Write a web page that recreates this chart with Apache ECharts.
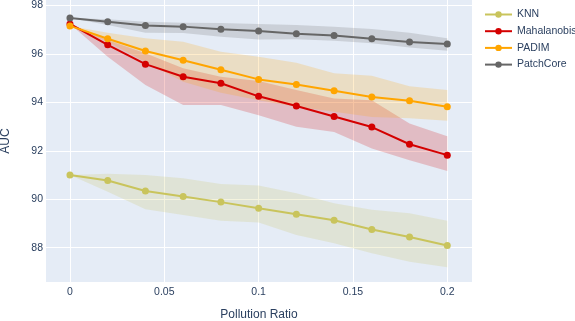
<!DOCTYPE html>
<html>
<head>
<meta charset="utf-8">
<script src="https://cdn.jsdelivr.net/npm/echarts@6/dist/echarts.min.js"></script>
<style>
  html, body { margin: 0; padding: 0; background: #fff; }
  #chart { width: 575px; height: 321px; }
</style>
</head>
<body>
<div id="chart"></div>
<script>
// pollution ratio on the x axis
var ratios = [0, 0.02, 0.04, 0.06, 0.08, 0.1, 0.12, 0.14, 0.16, 0.18, 0.2];
var xTicks = [0, 0.05, 0.1, 0.15, 0.2];
var yTicks = [88, 90, 92, 94, 96, 98];

// mean AUC per method
var knnMean   = [91.0, 90.77, 90.34, 90.11, 89.88, 89.63, 89.38, 89.13, 88.75, 88.44, 88.09];
var mahaMean  = [97.24, 96.38, 95.58, 95.06, 94.79, 94.25, 93.85, 93.42, 92.98, 92.27, 91.82];
var padimMean = [97.16, 96.63, 96.12, 95.74, 95.35, 94.95, 94.74, 94.48, 94.22, 94.07, 93.82];
var patchMean = [97.49, 97.33, 97.18, 97.13, 97.02, 96.95, 96.84, 96.76, 96.63, 96.49, 96.41];

// shaded band edges
var knnUpper   = [91.0, 91.05, 91.0, 90.87, 90.63, 90.57, 90.25, 89.83, 89.56, 89.42, 89.11];
var knnLower   = [91.0, 90.31, 89.59, 89.35, 89.11, 89.04, 88.52, 88.18, 87.77, 87.42, 87.19];
var mahaUpper  = [97.24, 96.58, 96.03, 95.41, 95.06, 94.88, 94.51, 94.16, 94.09, 93.13, 92.6];
var mahaLower  = [97.24, 95.89, 94.72, 93.89, 93.89, 93.47, 92.99, 92.78, 92.10, 91.61, 91.17];
var padimUpper = [97.16, 96.88, 96.65, 96.51, 96.09, 95.89, 95.64, 95.2, 95.1, 94.67, 94.51];
var padimLower = [97.16, 96.51, 95.67, 94.85, 94.40, 94.09, 93.82, 93.61, 93.40, 93.34, 93.24];
var patchUpper = [97.49, 97.43, 97.33, 97.29, 97.28, 97.24, 97.20, 97.13, 97.03, 96.88, 96.65];
var patchLower = [97.49, 97.20, 96.88, 96.87, 96.71, 96.6, 96.61, 96.55, 96.44, 96.27, 96.13];

var methods = [
	{name: 'KNN',         color: '#c9c45c', fill: 'rgba(201,196,92,0.2)',  mean: knnMean,   up: knnUpper,   lo: knnLower},
	{name: 'Mahalanobis', color: '#d40000', fill: 'rgba(212,0,0,0.2)',    mean: mahaMean,  up: mahaUpper,  lo: mahaLower},
	{name: 'PADIM',       color: '#ffa500', fill: 'rgba(255,165,0,0.2)',  mean: padimMean, up: padimUpper, lo: padimLower},
	{name: 'PatchCore',   color: '#666666', fill: 'rgba(102,102,102,0.2)', mean: patchMean, up: patchUpper, lo: patchLower}
];

function pairs(ys) {
	var out = [];
	for (var i = 0; i < ratios.length; i++) {
		out.push([ratios[i], ys[i]]);
	}
	return out;
}

// one polygon per method: upper edge left->right, lower edge back
function bandRenderer(fill) {
	return function (params, api) {
		if (params.dataIndexInside !== 0) return;
		var top = [], bottom = [];
		for (var i = 0; i < params.dataInsideLength; i++) {
			top.push(api.coord([api.value(0, i), api.value(2, i)]));
			bottom.unshift(api.coord([api.value(0, i), api.value(1, i)]));
		}
		return {
			type: 'polygon',
			shape: {points: top.concat(bottom)},
			style: {fill: fill}
		};
	};
}

var series = [];
for (var m = 0; m < methods.length; m++) {
	var md = methods[m];
	var rows = [];
	for (var i = 0; i < ratios.length; i++) {
		rows.push([ratios[i], md.lo[i], md.up[i]]);
	}
	series.push({
		name: md.name + '_band', type: 'custom', silent: true,
		data: rows, encode: {x: 0, y: [1, 2]},
		renderItem: bandRenderer(md.fill)
	});
}
for (var m = 0; m < methods.length; m++) {
	var md = methods[m];
	series.push({
		name: md.name, type: 'line', data: pairs(md.mean),
		symbol: 'circle', symbolSize: 7,
		itemStyle: {color: md.color},
		lineStyle: {color: md.color, width: 2}
	});
}

var txt = '#2a3f5f';
var font = 'Liberation Sans';
var myChart = echarts.init(document.getElementById('chart'));
var option = {
	animation: false,
	backgroundColor: '#ffffff',
	textStyle: {fontFamily: font},
	grid: {
		left: 46, right: 103, top: 0, bottom: 39,
		outerBoundsMode: 'none', containLabel: false,
		backgroundColor: '#e5ecf6', show: true, borderWidth: 0
	},
	legend: {
		data: ['KNN', 'Mahalanobis', 'PADIM', 'PatchCore'],
		orient: 'vertical',
		left: 484, top: 9, padding: 0,
		itemWidth: 27, itemHeight: 8, itemGap: 5.7,
		textStyle: {color: txt, fontSize: 10.5, fontFamily: font}
	},
	xAxis: {
		type: 'value', min: -0.0127, max: 0.2131,
		name: 'Pollution Ratio', nameLocation: 'middle', nameGap: 27, nameMoveOverlap: false,
		nameTextStyle: {color: txt, fontSize: 12, fontFamily: font},
		axisLine: {show: false}, axisTick: {show: false, customValues: xTicks},
		axisLabel: {color: txt, fontSize: 10.5, margin: 5, customValues: xTicks},
		splitLine: {lineStyle: {color: '#ffffff', width: 1}}
	},
	yAxis: {
		type: 'value', min: 86.58, max: 98.23,
		name: 'AUC', nameLocation: 'middle', nameGap: 34, nameMoveOverlap: false,
		nameTextStyle: {color: txt, fontSize: 12, fontFamily: font},
		axisLine: {show: false}, axisTick: {show: false, customValues: yTicks},
		axisLabel: {color: txt, fontSize: 10.5, margin: 3, customValues: yTicks},
		splitLine: {lineStyle: {color: '#ffffff', width: 1}}
	},
	series: series
};
myChart.setOption(option);
</script>
</body>
</html>
